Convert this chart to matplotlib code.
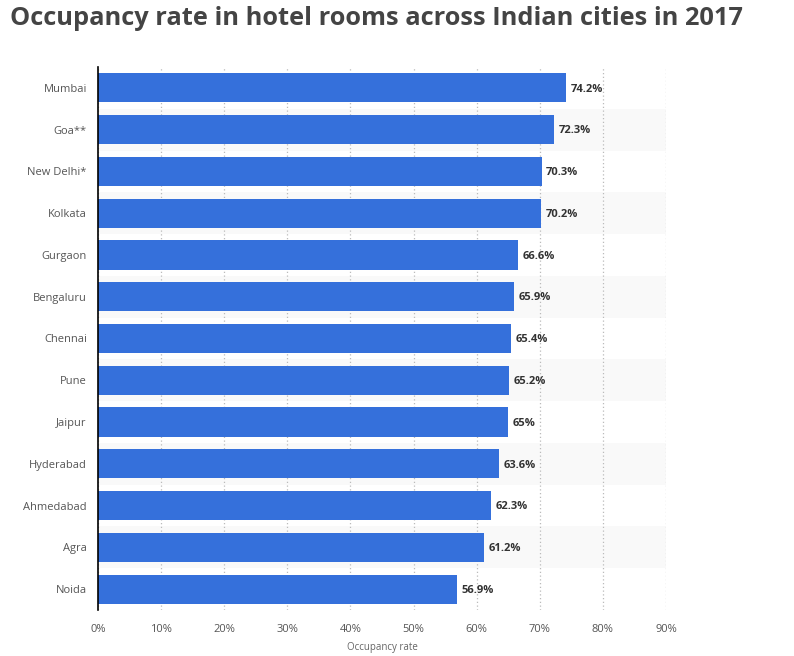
import matplotlib.pyplot as plt
from matplotlib.ticker import FuncFormatter

cities = ['Mumbai', 'Goa**', 'New Delhi*', 'Kolkata', 'Gurgaon', 'Bengaluru',
          'Chennai', 'Pune', 'Jaipur', 'Hyderabad', 'Ahmedabad', 'Agra', 'Noida']
occupancy = [74.2, 72.3, 70.3, 70.2, 66.6, 65.9, 65.4, 65.2, 65.0, 63.6, 62.3, 61.2, 56.9]
value_labels = ['74.2%', '72.3%', '70.3%', '70.2%', '66.6%', '65.9%', '65.4%',
                '65.2%', '65%', '63.6%', '62.3%', '61.2%', '56.9%']
x_ticks = [0, 10, 20, 30, 40, 50, 60, 70, 80, 90]

plt.rcParams['font.family'] = ['Open Sans', 'DejaVu Sans']

fig = plt.figure(figsize=(7.94, 6.56), dpi=100)
ax = fig.add_axes([0.1234, 0.0701, 0.7154, 0.8278])

n = len(cities)
ypos = list(range(n))

# alternating row bands
for i in ypos:
    if i % 2 == 1:
        ax.axhspan(i - 0.5, i + 0.5, color='#f9f9f9', zorder=0, lw=0)

ax.barh(ypos, occupancy, height=0.7, color='#3570db', zorder=3)
for y, v, lab in zip(ypos, occupancy, value_labels):
    ax.text(v + 0.7, y + 0.03, lab, va='center', ha='left', fontsize=8,
            fontweight='bold', color='#333333', zorder=4)

ax.set_ylim(n - 0.5, -0.5)
ax.set_xlim(0, 90)
ax.set_yticks(ypos)
ax.set_yticklabels(cities)
ax.set_xticks(x_ticks)
ax.xaxis.set_major_formatter(FuncFormatter(lambda v, p: f'{int(v)}%'))
ax.tick_params(axis='both', length=0, labelsize=8, labelcolor='#555555')
ax.tick_params(axis='y', pad=8)
ax.tick_params(axis='x', pad=10)

ax.grid(axis='x', linestyle=(0, (1, 2)), color='#bbbbbb', lw=0.9, zorder=1)
for s in ['top', 'right', 'bottom']:
    ax.spines[s].set_visible(False)
ax.spines['left'].set_color('black')
ax.spines['left'].set_linewidth(1.2)
ax.spines['left'].set_zorder(5)

ax.set_xlabel('Occupancy rate', fontsize=7, color='#666666', labelpad=5)

fig.text(0.013, 0.972, 'Occupancy rate in hotel rooms across Indian cities in 2017',
         fontsize=18.3, fontweight='bold', color='#444444', va='center', ha='left')

fig.savefig('out.png', dpi=100)
